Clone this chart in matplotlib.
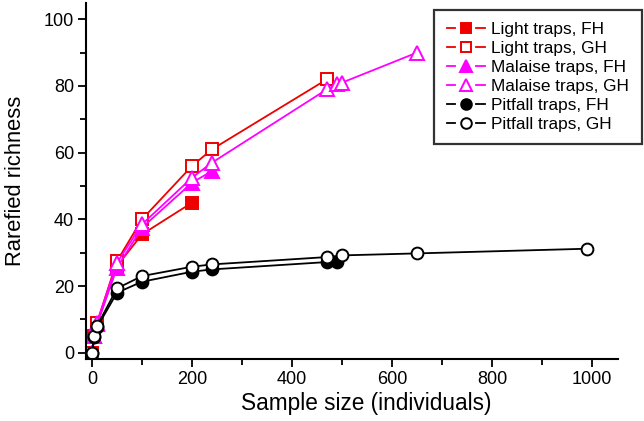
import numpy as np
import matplotlib.pyplot as plt
from matplotlib.lines import Line2D
from matplotlib.legend_handler import HandlerBase

plt.rcParams['font.family'] = ['Liberation Sans', 'DejaVu Sans']

# data

light_fh_x = [0, 5, 10, 50, 100, 200]
light_fh_y = [0, 4.8, 8.5, 26, 35.5, 45]

light_gh_x = [0, 5, 10, 50, 100, 200, 240, 470]
light_gh_y = [0, 5, 9, 27.5, 40, 56, 61, 82]

malaise_fh_x = [0, 5, 10, 50, 100, 200, 240]
malaise_fh_y = [0, 5, 8.5, 25.5, 37.5, 51, 54.5]

malaise_gh_x = [0, 5, 10, 50, 100, 200, 240, 470, 490, 500, 650]
malaise_gh_y = [0, 5, 9, 27, 38.5, 52.5, 57, 79, 80.5, 81, 90]

pitfall_fh_x = [0, 5, 10, 50, 100, 200, 240, 470, 490]
pitfall_fh_y = [0, 4.8, 7.6, 18, 21.3, 24.3, 25, 27.2, 27.2]

pitfall_gh_x = [0, 5, 10, 50, 100, 200, 240, 470, 500, 650, 990]
pitfall_gh_y = [0, 5, 8, 19.3, 23, 25.8, 26.5, 28.7, 29.2, 29.8, 31.2]

red = '#ee0000'
mag = '#ff00ff'

series = [
    (light_fh_x, light_fh_y, 's', red, red, 'Light traps, FH'),
    (light_gh_x, light_gh_y, 's', red, 'white', 'Light traps, GH'),
    (malaise_fh_x, malaise_fh_y, '^', mag, mag, 'Malaise traps, FH'),
    (malaise_gh_x, malaise_gh_y, '^', mag, 'white', 'Malaise traps, GH'),
    (pitfall_fh_x, pitfall_fh_y, 'o', 'black', 'black', 'Pitfall traps, FH'),
    (pitfall_gh_x, pitfall_gh_y, 'o', 'black', 'white', 'Pitfall traps, GH'),
]


# legend handle drawn as  -marker-  with gaps either side of the symbol
class GapHandler(HandlerBase):
    def create_artists(self, legend, orig, xdescent, ydescent, width, height, fontsize, trans):
        y = height / 2 - ydescent
        x0 = -xdescent
        x1 = x0 + width
        xc = (x0 + x1) / 2
        gap = width * 0.27
        c = orig.get_color()
        lw = orig.get_linewidth()
        a = Line2D([x0, xc - gap], [y, y], color=c, linewidth=lw)
        b = Line2D([xc + gap, x1], [y, y], color=c, linewidth=lw)
        m = Line2D([xc], [y], linestyle='none', marker=orig.get_marker(),
                   markersize=orig.get_markersize() * 0.9, markerfacecolor=orig.get_markerfacecolor(),
                   markeredgecolor=orig.get_markeredgecolor(), markeredgewidth=orig.get_markeredgewidth())
        for art in (a, b, m):
            art.set_transform(trans)
        return [a, b, m]


fig = plt.figure(figsize=(6.44, 4.21), dpi=100)
ax = fig.add_axes([0.1335, 0.147, 0.826, 0.846])

handles = []
for x, y, m, c, fc, lab in series:
    ms = 9.5 if m == '^' else 8.5
    line, = ax.plot(x, y, color=c, marker=m, markersize=ms, markerfacecolor=fc,
                    markeredgecolor=c, markeredgewidth=1.4, linewidth=1.3, label=lab)
    handles.append(line)

ax.set_xlim(-12, 1052)
ax.set_ylim(-1.9, 104.9)
ax.set_xticks(np.arange(0, 1001, 200))
ax.set_xticks(np.arange(100, 1001, 200), minor=True)
ax.set_yticks(np.arange(0, 101, 20))
ax.set_yticks(np.arange(10, 101, 20), minor=True)

for s in ['top', 'right']:
    ax.spines[s].set_visible(False)
for s in ['left', 'bottom']:
    ax.spines[s].set_linewidth(1.5)

ax.tick_params(which='major', direction='out', length=6, width=1.3, labelsize=13, pad=2.5)
ax.tick_params(which='minor', direction='out', length=4, width=1.3)

ax.set_xlabel('Sample size (individuals)', fontsize=16.3, labelpad=3)
ax.xaxis.label.set_x(0.527)
ax.set_ylabel('Rarefied richness', fontsize=15.8, labelpad=13)

leg = ax.legend(handles=handles, handler_map={Line2D: GapHandler()},
                loc='upper right', bbox_to_anchor=(0.997, 0.977),
                bbox_transform=fig.transFigure, fontsize=12.4, frameon=True,
                fancybox=False, handlelength=2.2, handletextpad=0.4,
                borderpad=0.74, labelspacing=0.22, borderaxespad=0)
leg.get_frame().set_edgecolor('black')
leg.get_frame().set_linewidth(1.6)

fig.savefig('out.png', dpi=100)
